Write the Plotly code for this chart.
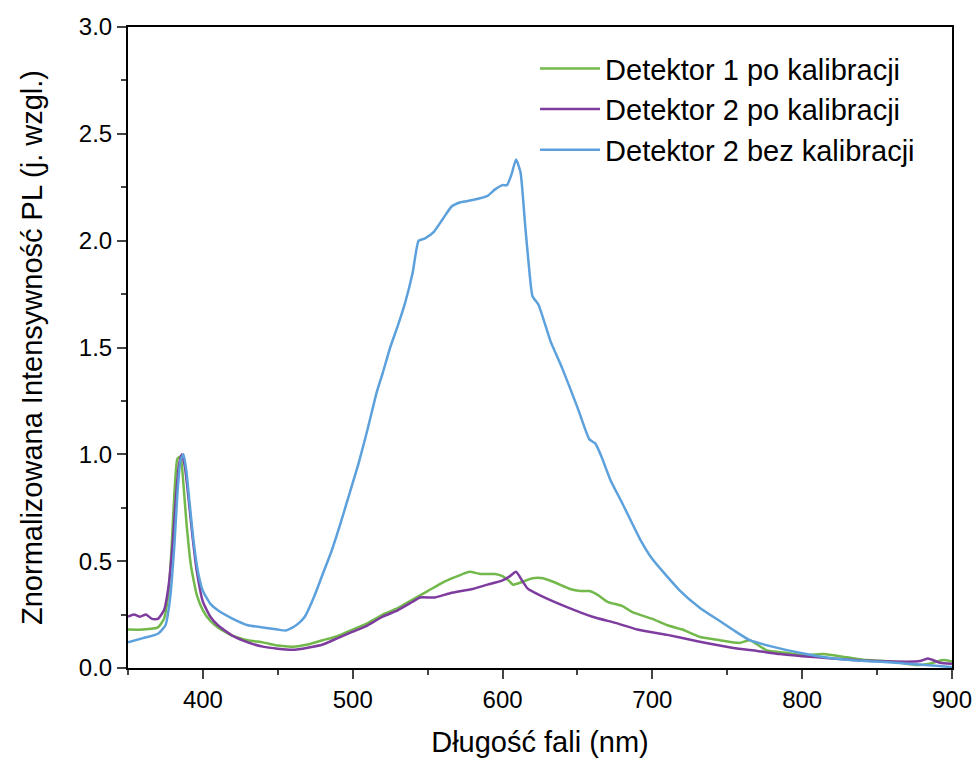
import plotly.graph_objects as go

# Detektor 1 po kalibracji (green)
wl_green = [350, 360, 370, 374, 377, 379, 381, 383, 385, 387, 389, 392, 396, 400, 405, 410, 420, 430, 440,
            450, 460, 470, 480, 490, 500, 510, 520, 530, 540, 550, 560, 570, 578, 585, 590, 595, 600, 604,
            607, 612, 620, 627, 635, 645, 652, 658, 664, 670, 680, 687, 700, 710, 720, 732, 745, 758, 765,
            770, 776, 790, 800, 814, 830, 843, 860, 877, 885, 894, 900]
val_green = [0.18, 0.18, 0.19, 0.23, 0.35, 0.55, 0.82, 0.98, 0.99, 0.86, 0.68, 0.48, 0.34, 0.27, 0.22, 0.19,
             0.15, 0.13, 0.12, 0.105, 0.10, 0.11, 0.13, 0.15, 0.18, 0.21, 0.25, 0.28, 0.32, 0.36, 0.40, 0.43,
             0.45, 0.44, 0.44, 0.44, 0.43, 0.41, 0.39, 0.40, 0.42, 0.42, 0.40, 0.37, 0.36, 0.36, 0.34, 0.31,
             0.29, 0.26, 0.23, 0.20, 0.18, 0.145, 0.13, 0.117, 0.13, 0.11, 0.084, 0.07, 0.06, 0.065, 0.05,
             0.037, 0.03, 0.014, 0.02, 0.037, 0.03]

# Detektor 2 po kalibracji (purple)
wl_purple = [350, 354, 358, 362, 366, 370, 374, 377, 380, 382, 384, 386, 388, 390, 393, 396, 400, 405, 410,
             420, 430, 440, 450, 460, 470, 480, 490, 500, 510, 520, 530, 540, 545, 555, 565, 580, 590, 600,
             605, 609, 613, 617, 625, 643, 660, 676, 690, 710, 730, 754, 770, 785, 800, 820, 840, 860, 875,
             880, 884, 888, 892, 900]
val_purple = [0.24, 0.25, 0.24, 0.25, 0.23, 0.23, 0.27, 0.38, 0.60, 0.80, 0.95, 1.00, 0.94, 0.82, 0.62, 0.45,
              0.31, 0.24, 0.20, 0.15, 0.12, 0.10, 0.09, 0.085, 0.095, 0.11, 0.14, 0.17, 0.20, 0.24, 0.27, 0.31,
              0.33, 0.33, 0.35, 0.37, 0.39, 0.41, 0.43, 0.45, 0.41, 0.37, 0.34, 0.285, 0.24, 0.21, 0.18,
              0.155, 0.125, 0.094, 0.08, 0.065, 0.055, 0.045, 0.035, 0.03, 0.03, 0.035, 0.045, 0.035, 0.025,
              0.02]

# Detektor 2 bez kalibracji (blue)
wl_blue = [350, 360, 370, 375, 378, 381, 383, 385, 387, 389, 391, 394, 397, 400, 405, 410, 420, 430, 440,
           450, 455, 460, 464, 468, 474, 480, 486, 492, 498, 504, 510, 516, 520, 525, 530, 535, 540, 544,
           548, 554, 560, 566, 572, 580, 590, 595, 600, 603, 606, 609, 612, 615, 618, 620, 624, 632, 640,
           650, 658, 662, 666, 672, 680, 692, 700, 718, 732, 745, 754, 765, 780, 799, 815, 832, 850, 865,
           880, 899, 900]
val_blue = [0.12, 0.14, 0.16, 0.20, 0.32, 0.58, 0.82, 0.97, 1.00, 0.92, 0.78, 0.58, 0.44, 0.36, 0.30, 0.27,
            0.23, 0.20, 0.19, 0.18, 0.175, 0.19, 0.21, 0.24, 0.33, 0.44, 0.55, 0.68, 0.82, 0.96, 1.12, 1.29,
            1.38, 1.50, 1.60, 1.71, 1.85, 2.00, 2.01, 2.04, 2.10, 2.16, 2.18, 2.19, 2.21, 2.24, 2.26, 2.26,
            2.31, 2.38, 2.32, 2.08, 1.85, 1.74, 1.70, 1.53, 1.40, 1.22, 1.07, 1.05, 0.99, 0.88, 0.77, 0.60,
            0.51, 0.365, 0.28, 0.22, 0.178, 0.13, 0.10, 0.07, 0.05, 0.037, 0.03, 0.023, 0.015, 0.005, 0.005]

series = [
    ("Detektor 1 po kalibracji", wl_green, val_green, "#72B84A"),
    ("Detektor 2 po kalibracji", wl_purple, val_purple, "#7D3C9E"),
    ("Detektor 2 bez kalibracji", wl_blue, val_blue, "#5CA0DC"),
]

x_tickvals = [400, 500, 600, 700, 800, 900]
y_tickvals = [0.0, 0.5, 1.0, 1.5, 2.0, 2.5, 3.0]

fig = go.Figure()
for name, x, y, color in series:
    fig.add_trace(go.Scatter(x=x, y=y, mode="lines", name=name,
                             line=dict(color=color, width=2.5, shape="spline", smoothing=0.5)))

font_family = "Liberation Sans, Arial, sans-serif"
fig.update_layout(
    width=973, height=765,
    margin=dict(l=128, r=21, t=27, b=97),
    paper_bgcolor="white", plot_bgcolor="white",
    font=dict(family=font_family, color="black"),
    showlegend=True,
    legend=dict(x=0.494, y=0.975, xanchor="left", yanchor="top",
                font=dict(size=29, family=font_family), bgcolor="rgba(0,0,0,0)",
                tracegroupgap=0, itemwidth=60),
    xaxis=dict(range=[350, 900], tickvals=x_tickvals, ticks="outside", ticklen=9, tickwidth=2,
               showline=True, linewidth=2, linecolor="black", mirror=True, showgrid=False,
               zeroline=False, tickfont=dict(size=24), automargin=False,
               minor=dict(dtick=50, tick0=350, ticks="outside", ticklen=5, tickwidth=2, showgrid=False),
               title=dict(text="Długość fali (nm)", font=dict(size=29), standoff=20)),
    yaxis=dict(range=[0, 3.0], tickvals=y_tickvals, tickformat=".1f", ticks="outside", ticklen=9,
               tickwidth=2, showline=True, linewidth=2, linecolor="black", mirror=True, showgrid=False,
               zeroline=False, tickfont=dict(size=24), automargin=False,
               minor=dict(dtick=0.25, tick0=0, ticks="outside", ticklen=5, tickwidth=2, showgrid=False),
               title=dict(text="Znormalizowana Intensywność PL (j. wzgl.)", font=dict(size=29), standoff=28)),
)

fig.write_html("out.html")
